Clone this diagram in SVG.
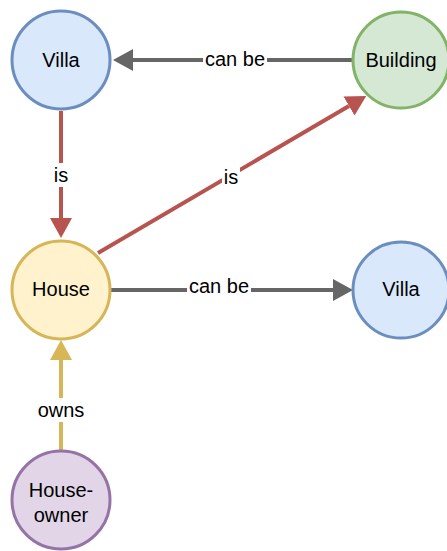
<svg xmlns="http://www.w3.org/2000/svg" width="447" height="551" viewBox="0 0 447 551">
  <style>
    text { font-family: "Liberation Sans", Arial, Helvetica, sans-serif; font-size: 20px; fill: #000; text-anchor: middle; }
    .node { stroke-width: 3; }
    .blue { fill: #dae8fc; stroke: #6c8ebf; }
    .green { fill: #d5e8d4; stroke: #82b366; }
    .yellow { fill: #fff2cc; stroke: #d6b656; }
    .purple { fill: #e1d5e7; stroke: #9673a6; }
    .edge { fill: none; stroke-width: 4; }
    .gray { stroke: #666666; }
    .red { stroke: #b85450; }
    .gold { stroke: #d6b656; }
    .lbl { fill: #ffffff; }
  </style>
  <defs>
    <marker id="arrow-gray" markerUnits="userSpaceOnUse" viewBox="0 0 20 22" refX="0" refY="11" markerWidth="20" markerHeight="22" orient="auto">
      <path d="M0,0 L20,11 L0,22 Z" fill="#666666"/>
    </marker>
    <marker id="arrow-red" markerUnits="userSpaceOnUse" viewBox="0 0 20 22" refX="0" refY="11" markerWidth="20" markerHeight="22" orient="auto">
      <path d="M0,0 L20,11 L0,22 Z" fill="#b85450"/>
    </marker>
    <marker id="arrow-gold" markerUnits="userSpaceOnUse" viewBox="0 0 20 22" refX="0" refY="11" markerWidth="20" markerHeight="22" orient="auto">
      <path d="M0,0 L20,11 L0,22 Z" fill="#d6b656"/>
    </marker>
  </defs>

  <g id="connectors">
    <!-- Building -> Villa : can be -->
    <g id="edge-building-villa">
      <line class="edge gray" x1="353" y1="60" x2="133" y2="60" marker-end="url(#arrow-gray)"/>
      <rect class="lbl" x="203" y="49" width="64" height="22"/>
      <text x="235" y="66">can be</text>
    </g>
    <!-- Villa -> House : is -->
    <g id="edge-villa-house">
      <line class="edge red" x1="61" y1="111" x2="61" y2="218" marker-end="url(#arrow-red)"/>
      <rect class="lbl" x="50" y="163" width="22" height="24"/>
      <text x="61" y="182">is</text>
    </g>
    <!-- House -> Building : is -->
    <g id="edge-house-building">
      <line class="edge red" x1="98" y1="253" x2="349" y2="106" marker-end="url(#arrow-red)"/>
      <rect class="lbl" x="222" y="166" width="18" height="22"/>
      <text x="231" y="184">is</text>
    </g>
    <!-- House -> Villa : can be -->
    <g id="edge-house-villa">
      <line class="edge gray" x1="111" y1="290" x2="333" y2="290" marker-end="url(#arrow-gray)"/>
      <rect class="lbl" x="187" y="277" width="64" height="22"/>
      <text x="219" y="293">can be</text>
    </g>
    <!-- House-owner -> House : owns -->
    <g id="edge-owner-house">
      <line class="edge gold" x1="61" y1="450" x2="61" y2="360" marker-end="url(#arrow-gold)"/>
      <rect class="lbl" x="36" y="398" width="50" height="24"/>
      <text x="61" y="417">owns</text>
    </g>
  </g>

  <g id="node-villa-top">
    <circle class="node blue" cx="61" cy="60" r="49"/>
    <text x="61" y="67">Villa</text>
  </g>
  <g id="node-building">
    <circle class="node green" cx="401" cy="60" r="48"/>
    <text x="401" y="67">Building</text>
  </g>
  <g id="node-house">
    <circle class="node yellow" cx="61" cy="290" r="49"/>
    <text x="61" y="296">House</text>
  </g>
  <g id="node-villa-right">
    <circle class="node blue" cx="401" cy="290" r="48"/>
    <text x="401" y="296">Villa</text>
  </g>
  <g id="node-houseowner">
    <circle class="node purple" cx="61" cy="500" r="49"/>
    <text x="61" y="497">House-</text>
    <text x="61" y="522">owner</text>
  </g>
</svg>
